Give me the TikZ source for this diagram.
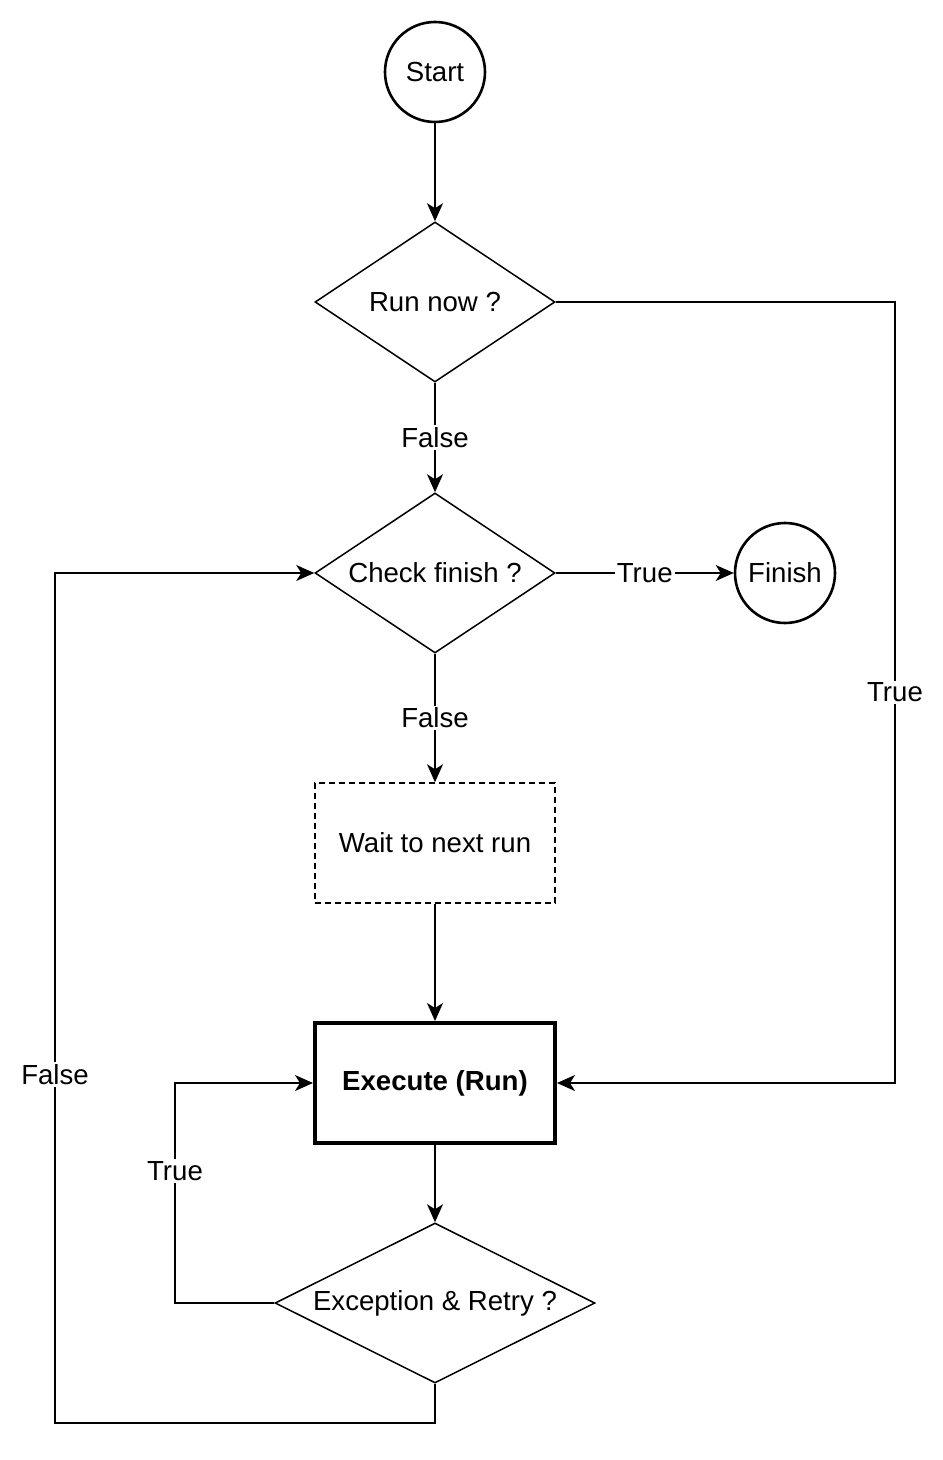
\documentclass[tikz,border=0pt]{standalone}
\usepackage{fontspec}
\setmainfont{Liberation Sans}
\usetikzlibrary{shapes.geometric,arrows.meta}
\tikzset{
    base/.style={font=\fontsize{13.8}{16}\selectfont, inner sep=0pt},
    every label/.style={base},
    terminal/.style={base, circle, draw, line width=1.3pt, minimum size=50pt},
    decision/.style={base, diamond, draw, line width=0.75pt, minimum width=120pt, minimum height=80pt, label=center:{#1}},
    waitbox/.style={base, rectangle, draw, line width=0.75pt, dash pattern=on 3pt off 2pt, minimum width=120pt, minimum height=60pt},
    runbox/.style={base, rectangle, draw, line width=2pt, minimum width=120pt, minimum height=60pt, font=\fontsize{13.8}{16}\selectfont\bfseries},
    flow/.style={line width=0.75pt, -{Stealth[length=9pt,width=8pt,inset=2.5pt]}},
    lbl/.style={base, fill=white, inner sep=1pt}
}
\begin{document}
\begin{tikzpicture}[x=0.5pt,y=-0.5pt]
        \useasboundingbox (0,0) rectangle (942,1460);
        % nodes
        \node[terminal] (start) at (435,72) {Start};
        \node[decision={Run now ?}] (runnow) at (435,302) {};
        \node[decision={Check finish ?}] (check) at (435,573) {};
        \node[terminal] (finish) at (785,573) {Finish};
        \node[waitbox] (wait) at (435,843) {Wait to next run};
        \node[runbox] (exec) at (435,1083) {Execute (Run)};
        \node[decision={Exception \& Retry ?}, minimum width=160pt] (retry) at (435,1303) {};
        % bends
        \coordinate (rgt) at (895,302);
        \coordinate (btm) at (435,1423);
        \coordinate (lft) at (55,573);
        \coordinate (lp) at (175,1083);
        % connectors
        \draw[flow] (start) -- (runnow);
        \draw[flow] (runnow) -- node[lbl] {False} (check);
        \draw[flow] (check) -- node[lbl] {True} (finish);
        \draw[flow] (check) -- node[lbl] {False} (wait);
        \draw[flow] (wait) -- (exec);
        \draw[flow] (exec) -- (retry);
        \draw[flow] (runnow.east) -- (rgt) |- node[lbl, pos=0.25] {True} (exec.east);
        \draw[flow] (retry.south) -- (btm) -| node[lbl, pos=0.705] {False} (lft) -- (check.west);
        \draw[flow] (retry.west) -| node[lbl, pos=0.8] {True} (lp) -- (exec.west);
\end{tikzpicture}
\end{document}
